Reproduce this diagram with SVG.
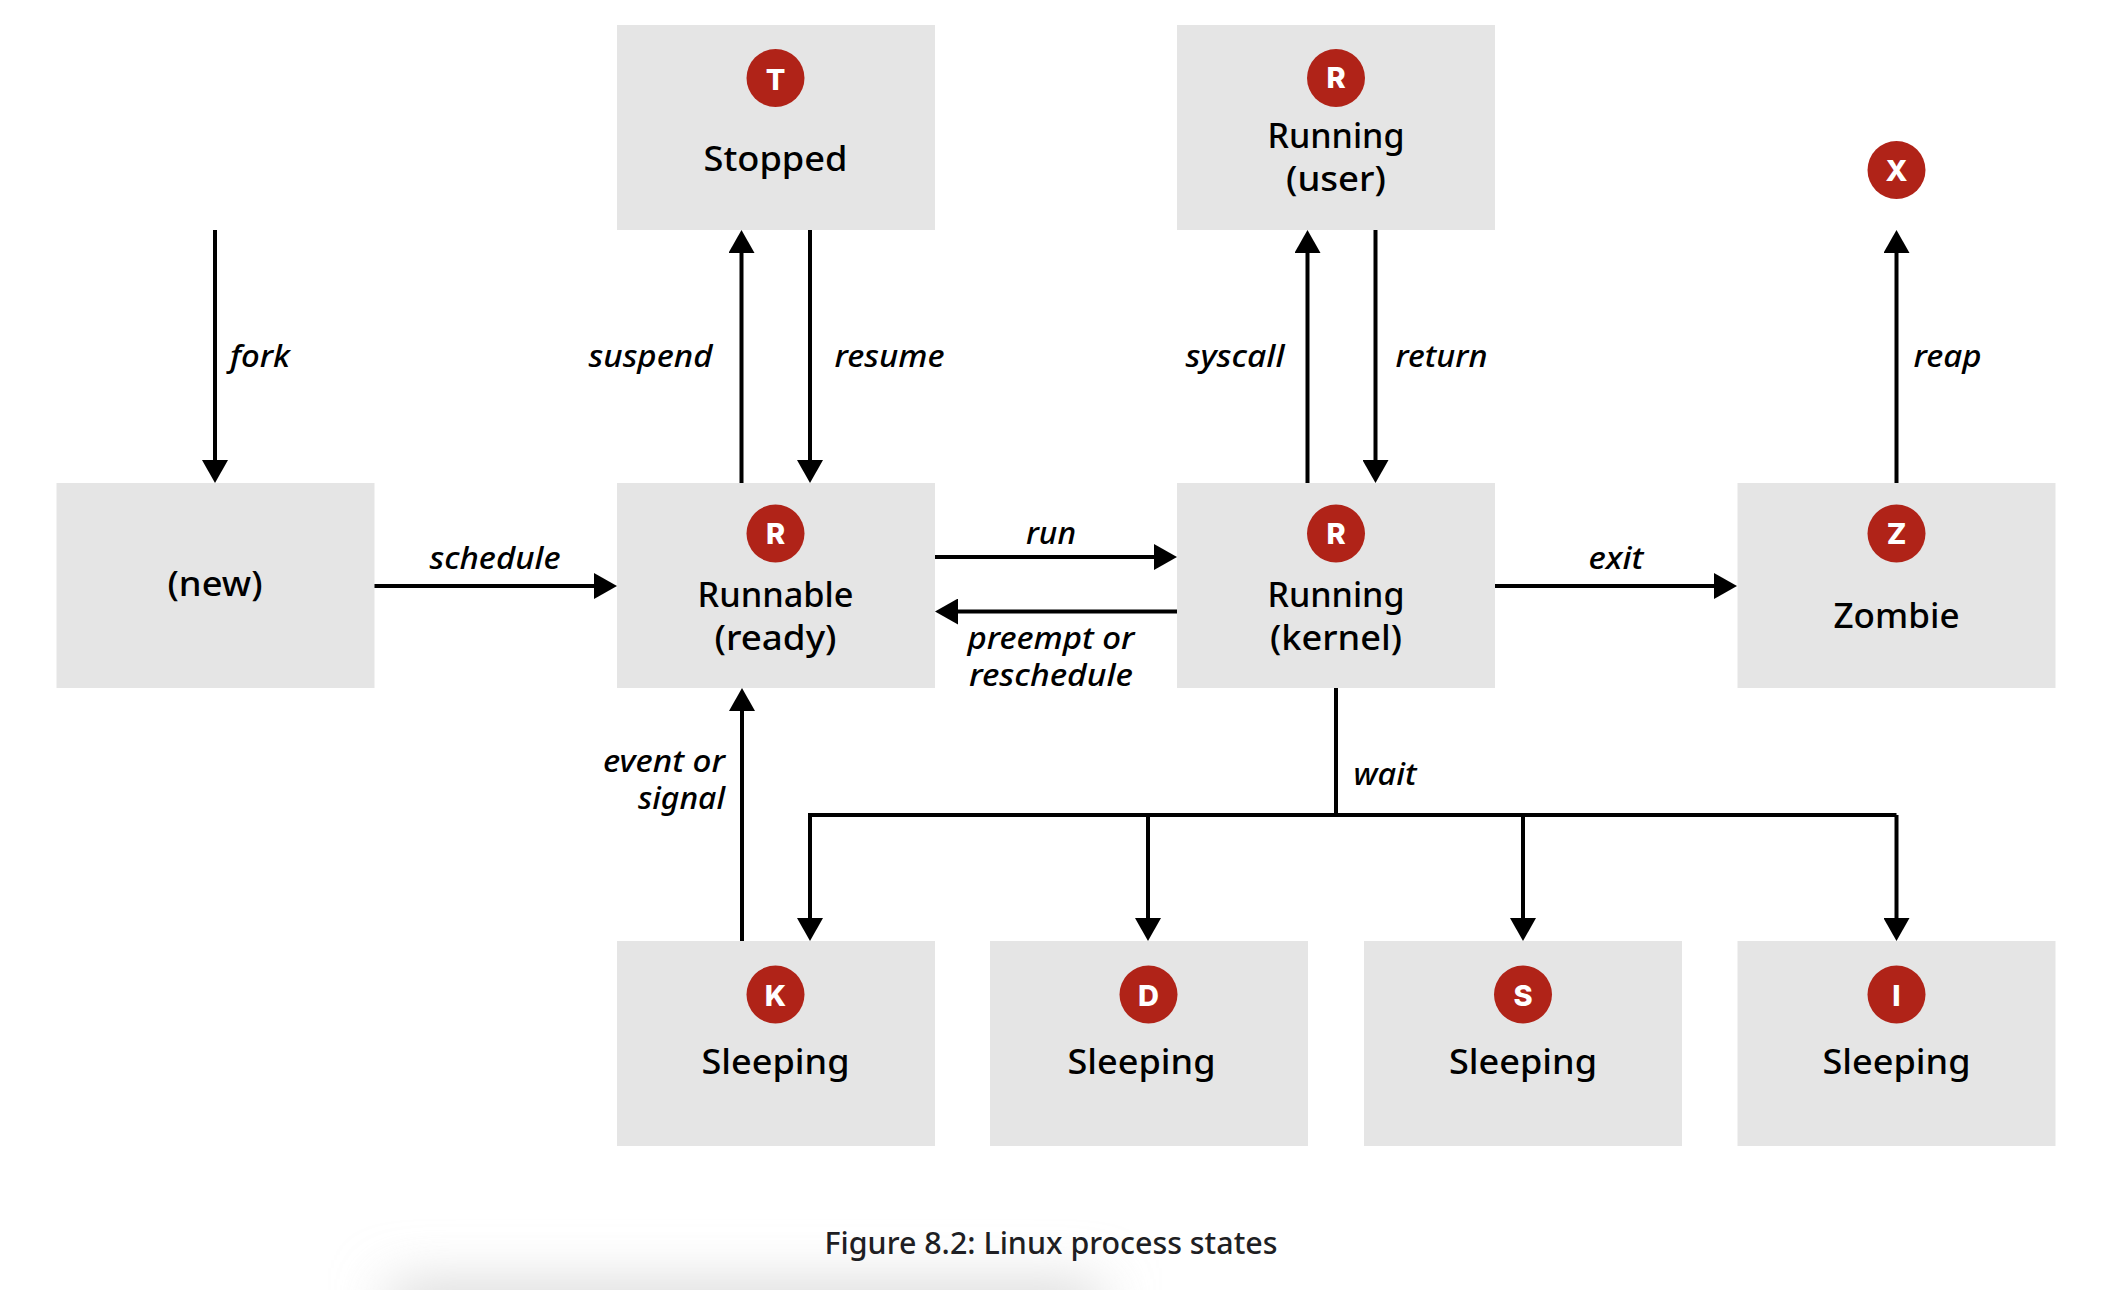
<svg xmlns="http://www.w3.org/2000/svg" width="2106" height="1290" viewBox="0 0 2106 1290">
<style>
text{font-family:"Noto Sans","Liberation Sans",sans-serif;fill:#000}
.box{fill:#e5e5e5}
.badge{fill:#b02318}
.bt{font-family:Inter,"Liberation Sans",sans-serif;font-size:29px;font-weight:800;fill:#fff;text-anchor:middle}
.n{font-size:34px;font-weight:500;text-anchor:middle}
.l{font-size:30px;font-weight:500;font-style:italic;text-anchor:middle}
.c{fill:none;stroke:#000;stroke-width:4}
.cap{font-size:31px;font-weight:500;fill:#1f1f24;text-anchor:middle}
</style>
<defs>
<marker id="a" markerUnits="userSpaceOnUse" markerWidth="24" markerHeight="26" refX="13" refY="13" orient="auto" viewBox="0 0 24 26"><path d="M0 0L23 13L0 26Z" fill="#000"/></marker>
<filter id="blur" x="-30%" y="-300%" width="160%" height="700%"><feGaussianBlur stdDeviation="28"/></filter>
</defs>
<rect width="2106" height="1290" fill="#fff"/>
<rect id="shadow" x="390" y="1286" width="710" height="44" fill="#d2d2d2" filter="url(#blur)"/>
<g id="connectors">
<path class="c" marker-end="url(#a)" d="M215 230V473"/>
<path class="c" marker-end="url(#a)" d="M741.500 483V240"/>
<path class="c" marker-end="url(#a)" d="M810 230V473"/>
<path class="c" marker-end="url(#a)" d="M1307.500 483V240"/>
<path class="c" marker-end="url(#a)" d="M1375.500 230V473"/>
<path class="c" marker-end="url(#a)" d="M1896.500 483V240"/>
<path class="c" marker-end="url(#a)" d="M374 586H607"/>
<path class="c" marker-end="url(#a)" d="M935 557H1167"/>
<path class="c" marker-end="url(#a)" d="M1177 611.500H945"/>
<path class="c" marker-end="url(#a)" d="M1495 586H1727"/>
<path class="c" marker-end="url(#a)" d="M742 941V698"/>
<path class="c" d="M1336 688V815"/>
<path class="c" marker-end="url(#a)" d="M1896.500 815H810V931"/>
<path class="c" marker-end="url(#a)" d="M1148 815V931"/>
<path class="c" marker-end="url(#a)" d="M1523 815V931"/>
<path class="c" marker-end="url(#a)" d="M1896.500 815V931"/>
<g id="connector-labels">
<text class="l" x="260" y="367" textLength="60" lengthAdjust="spacingAndGlyphs">fork</text>
<text class="l" x="650.500" y="367" textLength="124" lengthAdjust="spacingAndGlyphs">suspend</text>
<text class="l" x="889.500" y="367" textLength="110" lengthAdjust="spacingAndGlyphs">resume</text>
<text class="l" x="1235" y="367" textLength="99" lengthAdjust="spacingAndGlyphs">syscall</text>
<text class="l" x="1441.500" y="367" textLength="92" lengthAdjust="spacingAndGlyphs">return</text>
<text class="l" x="1947.500" y="367" textLength="68" lengthAdjust="spacingAndGlyphs">reap</text>
<text class="l" x="495" y="569" textLength="131" lengthAdjust="spacingAndGlyphs">schedule</text>
<text class="l" x="1051" y="544" textLength="50" lengthAdjust="spacingAndGlyphs">run</text>
<text class="l" x="1051" y="649" textLength="167" lengthAdjust="spacingAndGlyphs">preempt or</text>
<text class="l" x="1051" y="686" textLength="164" lengthAdjust="spacingAndGlyphs">reschedule</text>
<text class="l" x="1616" y="569" textLength="55" lengthAdjust="spacingAndGlyphs">exit</text>
<text class="l" x="664" y="771.500" textLength="122" lengthAdjust="spacingAndGlyphs">event or</text>
<text class="l" x="681.500" y="808.500" textLength="87" lengthAdjust="spacingAndGlyphs">signal</text>
<text class="l" x="1385" y="785" textLength="63" lengthAdjust="spacingAndGlyphs">wait</text>
</g>
</g>
<g id="new"><rect class="box" x="56.500" y="483" width="318" height="205"/><text class="n" x="215" y="596" textLength="95" lengthAdjust="spacingAndGlyphs">(new)</text></g>
<g id="stopped"><rect class="box" x="617" y="25" width="318" height="205"/><circle class="badge" cx="775.500" cy="78" r="29"/><text class="bt" x="775.500" y="90">T</text><text class="n" x="775.500" y="171" textLength="144" lengthAdjust="spacingAndGlyphs">Stopped</text></g>
<g id="running-user"><rect class="box" x="1177" y="25" width="318" height="205"/><circle class="badge" cx="1336" cy="78" r="29"/><text class="bt" x="1336" y="88">R</text><text class="n" x="1336" y="148" textLength="137" lengthAdjust="spacingAndGlyphs">Running</text><text class="n" x="1336" y="191" textLength="100" lengthAdjust="spacingAndGlyphs">(user)</text></g>
<g id="dead"><circle class="badge" cx="1896.500" cy="170" r="29"/><text class="bt" x="1896.500" y="181">X</text></g>
<g id="runnable"><rect class="box" x="617" y="483" width="318" height="205"/><circle class="badge" cx="775.500" cy="533.500" r="29"/><text class="bt" x="775.500" y="544">R</text><text class="n" x="775.500" y="607" textLength="156" lengthAdjust="spacingAndGlyphs">Runnable</text><text class="n" x="775.500" y="650" textLength="122" lengthAdjust="spacingAndGlyphs">(ready)</text></g>
<g id="running-kernel"><rect class="box" x="1177" y="483" width="318" height="205"/><circle class="badge" cx="1336" cy="533.500" r="29"/><text class="bt" x="1336" y="544">R</text><text class="n" x="1336" y="607" textLength="137" lengthAdjust="spacingAndGlyphs">Running</text><text class="n" x="1336" y="650" textLength="132" lengthAdjust="spacingAndGlyphs">(kernel)</text></g>
<g id="zombie"><rect class="box" x="1737.500" y="483" width="318" height="205"/><circle class="badge" cx="1896.500" cy="533.500" r="29"/><text class="bt" x="1896.500" y="544">Z</text><text class="n" x="1896.500" y="628" textLength="126" lengthAdjust="spacingAndGlyphs">Zombie</text></g>
<g id="sleeping-k"><rect class="box" x="617" y="941" width="318" height="205"/><circle class="badge" cx="775.500" cy="994.500" r="29"/><text class="bt" x="775.500" y="1005.500">K</text><text class="n" x="775.500" y="1074" textLength="148" lengthAdjust="spacingAndGlyphs">Sleeping</text></g>
<g id="sleeping-d"><rect class="box" x="990" y="941" width="318" height="205"/><circle class="badge" cx="1148.500" cy="994.500" r="29"/><text class="bt" x="1148.500" y="1005.500">D</text><text class="n" x="1141.500" y="1074" textLength="148" lengthAdjust="spacingAndGlyphs">Sleeping</text></g>
<g id="sleeping-s"><rect class="box" x="1364" y="941" width="318" height="205"/><circle class="badge" cx="1523" cy="994.500" r="29"/><text class="bt" x="1523" y="1005.500">S</text><text class="n" x="1523" y="1074" textLength="148" lengthAdjust="spacingAndGlyphs">Sleeping</text></g>
<g id="sleeping-i"><rect class="box" x="1737.500" y="941" width="318" height="205"/><circle class="badge" cx="1896.500" cy="994.500" r="29"/><text class="bt" x="1896.500" y="1005.500">I</text><text class="n" x="1896.500" y="1074" textLength="148" lengthAdjust="spacingAndGlyphs">Sleeping</text></g>
<text id="caption" class="cap" x="1051" y="1254" textLength="453" lengthAdjust="spacingAndGlyphs">Figure 8.2: Linux process states</text>
</svg>
